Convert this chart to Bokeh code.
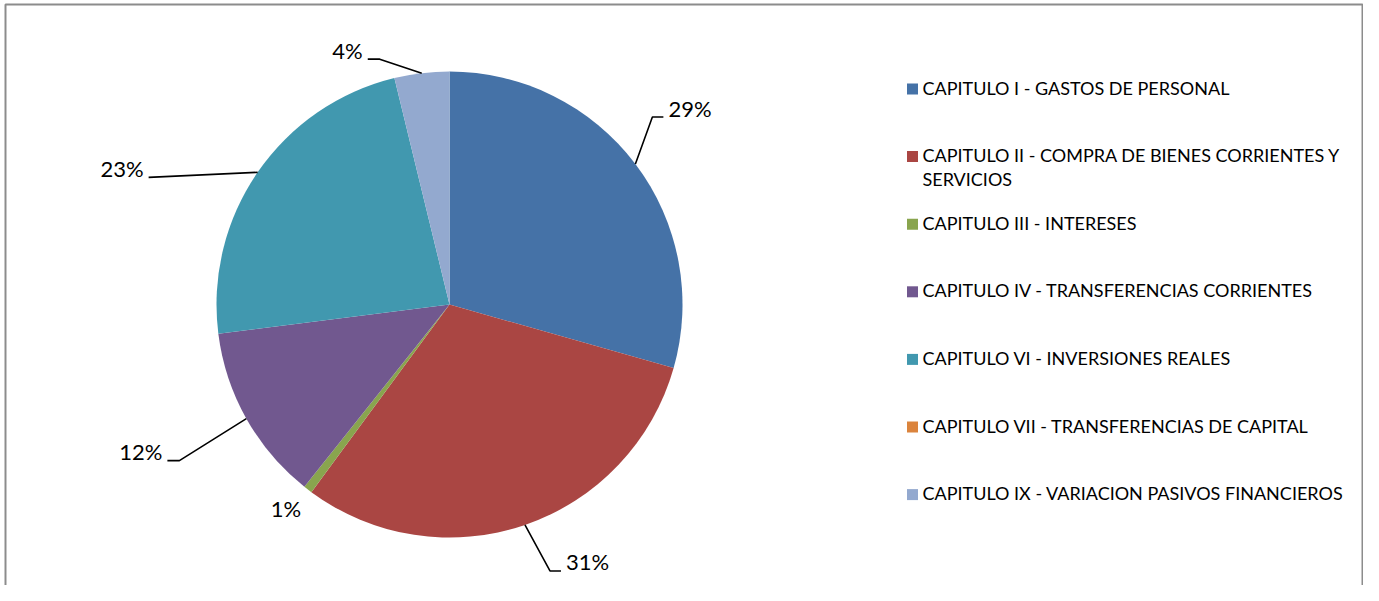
import math
from bokeh.plotting import figure
from bokeh.models import Range1d, ColumnDataSource
from bokeh.core.properties import value
from bokeh.embed import file_html
from bokeh.resources import INLINE

# ---------------- data ----------------
categories = [
    "CAPITULO I - GASTOS DE PERSONAL",
    "CAPITULO II - COMPRA DE BIENES CORRIENTES Y\nSERVICIOS",
    "CAPITULO III - INTERESES",
    "CAPITULO IV - TRANSFERENCIAS CORRIENTES",
    "CAPITULO VI - INVERSIONES REALES",
    "CAPITULO VII - TRANSFERENCIAS DE CAPITAL",
    "CAPITULO IX - VARIACION PASIVOS FINANCIEROS",
]
shares = [29.4, 30.7, 0.6, 12.3, 23.2, 0.0, 3.8]

# ---------------- style / layout ----------------
colors = ["#4572A7", "#AA4643", "#89A54E", "#71588F", "#4198AF", "#DB843D", "#93A9CF"]
FONT = "Lato"
W, H = 1363, 585
CX, CY = 449, 281          # pie centre (data units == pixels)
R = 233
# leader layout per slice: (elbow dx, elbow dy [screen, down+], tail length, leader?)
label_layout = [
    (17, -47, 11, True),
    (25, 46, 11, True),
    (-22, 28, 0, False),
    (-67, 42, -12, True),
    (-109, 5, 0, True),
    (0, 0, 0, False),
    (-42, -14, -12, True),
]
TEXT_RAISE = 9
LEG_X = 922
LEG_Y0 = 497.5
LEG_STEP = 67.6

p = figure(width=W, height=H, output_backend="svg", toolbar_location=None,
           x_range=Range1d(0, W), y_range=Range1d(0, H),
           x_axis_type=None, y_axis_type=None, min_border=0,
           outline_line_color=None, background_fill_color="white",
           border_fill_color="white")
p.grid.visible = False

# wedges
total = sum(shares)
starts, ends, mids = [], [], []
cum = 0.0
for v in shares:
    a0 = math.pi / 2 - 2 * math.pi * cum / total
    cum += v
    a1 = math.pi / 2 - 2 * math.pi * cum / total
    starts.append(a0); ends.append(a1); mids.append((a0 + a1) / 2)

keep = [i for i, v in enumerate(shares) if v > 0]
src = ColumnDataSource(dict(start=[starts[i] for i in keep], end=[ends[i] for i in keep],
                            color=[colors[i] for i in keep]))
p.wedge(x=CX, y=CY, radius=R, radius_units="screen", start_angle="start",
        end_angle="end", direction="clock", fill_color="color", line_color=None,
        source=src)

# data labels with leader lines
def pct_text(v):
    return f"{int(math.floor(v / total * 100 + 0.5))}%"

lx, ly, ltxt, lalign = [], [], [], []
seg_xs, seg_ys = [], []
for v, m, (dx, dy, tail, lead) in zip(shares, mids, label_layout):
    if v <= 0:
        continue
    ex = CX + R * math.cos(m)
    ey = CY + R * math.sin(m)
    bx, by = ex + dx, ey - dy
    if lead:
        tx = bx + tail
        seg_xs.append([ex, bx, tx]); seg_ys.append([ey, by, by])
        if dx >= 0:
            lx.append(tx + 5); lalign.append("left")
        else:
            lx.append(tx - 5); lalign.append("right")
        ly.append(by + TEXT_RAISE)
    else:
        lx.append(bx); ly.append(by + TEXT_RAISE); lalign.append("center")
    ltxt.append(pct_text(v))

p.multi_line(xs=seg_xs, ys=seg_ys, line_color="black", line_width=1.6)
p.text(x=lx, y=ly, text=ltxt, text_align=lalign, text_baseline="alphabetic",
       text_font=value(FONT), text_font_size="22px", text_color="black")

# legend
n = len(categories)
leg_y = [LEG_Y0 - i * LEG_STEP for i in range(n)]
p.scatter(x=[LEG_X - 10] * n, y=[y - 1 for y in leg_y], marker="square", size=11,
          fill_color=colors, line_color=None)
p.text(x=[LEG_X] * n, y=[y + 11.5 for y in leg_y], text=categories,
       text_align="left", text_baseline="top", text_font=value(FONT),
       text_font_size="18px", text_color="black", text_line_height=1.08)

# chart border (left, top, right)
p.multi_line(xs=[[5, 5, W - 1, W - 1]], ys=[[-5, H - 4, H - 4, -5]],
             line_color="#8c8c8c", line_width=2)

open("out.html", "w").write(file_html(p, INLINE))
